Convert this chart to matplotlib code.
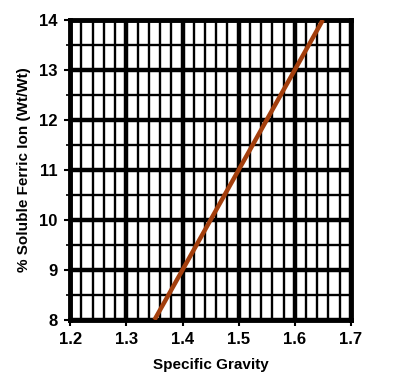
import matplotlib.pyplot as plt
from matplotlib.ticker import MultipleLocator

# ferric iron vs specific gravity
specific_gravity = [1.35, 1.40, 1.45, 1.50, 1.55, 1.60, 1.65]
ferric_pct = [8.0, 9.0, 10.0, 11.0, 12.0, 13.0, 14.0]

plt.rcParams['font.family'] = ['Liberation Sans', 'DejaVu Sans']
plt.rcParams['font.weight'] = 'bold'

fig = plt.figure(figsize=(3.97, 3.75), dpi=100)
ax = fig.add_axes([0.177, 0.147, 0.707, 0.8])

ax.set_xlim(1.2, 1.7)
ax.set_ylim(8, 14)
ax.xaxis.set_major_locator(MultipleLocator(0.1))
ax.xaxis.set_minor_locator(MultipleLocator(0.02))
ax.yaxis.set_major_locator(MultipleLocator(1))
ax.yaxis.set_minor_locator(MultipleLocator(0.5))

ax.grid(which='major', color='black', linewidth=3.2)
ax.grid(which='minor', color='black', linewidth=1.7)
ax.set_axisbelow(True)

ax.plot(specific_gravity, ferric_pct, color='#A33E0C', linewidth=3.2,
        solid_capstyle='butt', zorder=3)

for s in ax.spines.values():
    s.set_linewidth(3.5)

ax.tick_params(which='major', direction='out', length=4, width=1.5,
               labelsize=12, pad=5)
ax.tick_params(which='minor', direction='out', length=3, width=1.2)
ax.tick_params(axis='x', which='minor', length=0)
for lbl in ax.get_xticklabels() + ax.get_yticklabels():
    lbl.set_fontweight('bold')
ax.xaxis.set_major_formatter(plt.FuncFormatter(lambda v, p: f'{v:.1f}'))

ax.set_xlabel('Specific Gravity', fontsize=11, fontweight='bold', labelpad=8)
ax.set_ylabel('% Soluble Ferric Ion (Wt/Wt)', fontsize=11, fontweight='bold', labelpad=6)

fig.savefig('out.png', dpi=100)
